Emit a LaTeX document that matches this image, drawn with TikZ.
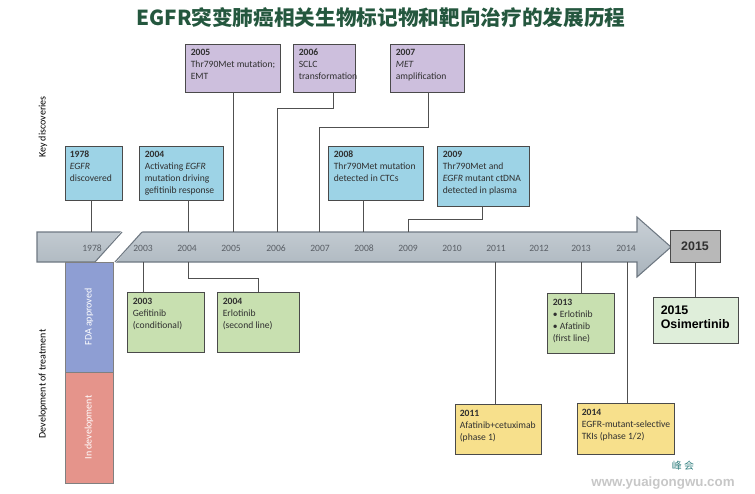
\documentclass[tikz,border=0pt]{standalone}
\usepackage{fontspec}
\setmainfont{Carlito}
\newfontfamily\cjk{Noto Sans CJK SC}
\newfontfamily\arialf{Liberation Sans}
\usetikzlibrary{fit}
\definecolor{purp}{HTML}{CDBFDD}
\definecolor{bluef}{HTML}{9DD3E6}
\definecolor{greenf}{HTML}{C8E0B0}
\definecolor{lgreenf}{HTML}{DFEEDA}
\definecolor{yellowf}{HTML}{F7E08C}
\definecolor{fdaf}{HTML}{8E9ED3}
\definecolor{devf}{HTML}{E5948B}
\definecolor{grayf}{HTML}{B8B8B8}
\definecolor{boxline}{HTML}{4A4A4A}
\definecolor{connc}{HTML}{505050}
\definecolor{txt}{HTML}{303030}
\definecolor{yeartxt}{HTML}{5A5F66}
\definecolor{titlec}{HTML}{24573E}
\definecolor{arrtop}{HTML}{CAD1D7}
\definecolor{arrbot}{HTML}{A9B3BC}
\definecolor{arrline}{HTML}{6E7882}
\begin{document}
\begin{tikzpicture}[x=0.75pt,y=-0.75pt,
  box/.style={draw=boxline, line width=0.7pt, inner sep=0pt},
  pbox/.style={box, fill=purp},
  bbox/.style={box, fill=bluef},
  gbox/.style={box, fill=greenf},
  lgbox/.style={box, fill=lgreenf},
  ybox/.style={box, fill=yellowf},
  btext/.style={anchor=north west, align=left, inner sep=0pt, font=\fontsize{7.2}{9}\selectfont, text=txt},
  conn/.style={draw=connc, line width=0.75pt},
  yearlbl/.style={font=\fontsize{7.2}{8}\selectfont, text=yeartxt, inner sep=0pt},
  sidelbl/.style={font=\fontsize{7.5}{9}\selectfont, rotate=90, inner sep=0pt, text=black},
  barlbl/.style={font=\fontsize{7.5}{9}\selectfont, rotate=90, inner sep=0pt, text=white}
]
\useasboundingbox (0,0) rectangle (755,493);

% title
\node[font=\cjk\bfseries\fontsize{15.5}{18}\selectfont, text=titlec, inner sep=0pt] (title) at (381,18) {EGFR突变肺癌相关生物标记物和靶向治疗的发展历程};

% side labels
\node[sidelbl] (keylbl) at (43,127) {Key discoveries};
\node[sidelbl] (devlbl) at (43,384) {Development of treatment};

% timeline arrow
\path[draw=arrline, line width=0.8pt, top color=arrtop, bottom color=arrbot]
  (37,232) -- (637,232) -- (637,217) -- (671,247) -- (637,277) -- (637,262) -- (37,262) -- cycle;
\fill[white] (94,263.5) -- (115,263.5) -- (143,230.5) -- (122,230.5) -- cycle;
\draw[arrline, line width=0.8pt] (95,262) -- (122,232);
\draw[arrline, line width=0.8pt] (115,262) -- (142,232);

% year labels
\foreach \yr/\xx in {1978/92,2003/143,2004/187,2005/231,2006/276,2007/320,2008/364,2009/408,2010/452,2011/496,2012/539,2013/581,2014/626}
  \node[yearlbl] (y\yr) at (\xx,248) {\yr};

% 2015 gray box
\node[box, fill=grayf, fit={(670,230)(720,262)}] (g2015) {};
\node[font=\arialf\bfseries\fontsize{9.3}{11}\selectfont, text=txt, inner sep=0pt] (g2015t) at (g2015.center) {2015};

% development bars
\node[box, draw=boxline!70, fill=fdaf, fit={(65,262)(113,372)}] (fda) {};
\node[box, draw=boxline!70, fill=devf, fit={(65,372)(113,483)}] (dev) {};
\node[barlbl] (fdat) at (fda.center) {FDA approved};
\node[barlbl] (devt) at (dev.center) {In development};

% key discoveries - purple
\node[pbox, fit={(185,44)(280,92)}] (p2005) {};
\node[btext] (p2005t) at ([shift={(6,5)}]p2005.north west) {\textbf{2005}\\Thr790Met mutation;\\EMT};
\node[pbox, fit={(293,44)(355,92)}] (p2006) {};
\node[btext] (p2006t) at ([shift={(6,5)}]p2006.north west) {\textbf{2006}\\SCLC\\transformation};
\node[pbox, fit={(390,44)(464,92)}] (p2007) {};
\node[btext] (p2007t) at ([shift={(6,5)}]p2007.north west) {\textbf{2007}\\\textit{MET}\\amplification};

% key discoveries - blue
\node[bbox, fit={(65,146)(122,200)}] (b1978) {};
\node[btext] (b1978t) at ([shift={(5,5)}]b1978.north west) {\textbf{1978}\\\textit{EGFR}\\discovered};
\node[bbox, fit={(139,146)(223,200)}] (b2004) {};
\node[btext] (b2004t) at ([shift={(6,5)}]b2004.north west) {\textbf{2004}\\Activating \textit{EGFR}\\mutation driving\\gefitinib response};
\node[bbox, fit={(328,146)(423,200)}] (b2008) {};
\node[btext] (b2008t) at ([shift={(6,5)}]b2008.north west) {\textbf{2008}\\Thr790Met mutation\\detected in CTCs};
\node[bbox, fit={(437,146)(529,206)}] (b2009) {};
\node[btext] (b2009t) at ([shift={(6,5)}]b2009.north west) {\textbf{2009}\\Thr790Met and\\\textit{EGFR} mutant ctDNA\\detected in plasma};

% treatment boxes
\node[gbox, fit={(127,292)(204,352)}] (g2003) {};
\node[btext] (g2003t) at ([shift={(6,6)}]g2003.north west) {\textbf{2003}\\Gefitinib\\(conditional)};
\node[gbox, fit={(217,292)(299,352)}] (g2004) {};
\node[btext] (g2004t) at ([shift={(6,6)}]g2004.north west) {\textbf{2004}\\Erlotinib\\(second line)};
\node[gbox, fit={(547,293)(614,353)}] (g2013) {};
\node[btext] (g2013t) at ([shift={(6,6)}]g2013.north west) {\textbf{2013}\\\textbullet\ Erlotinib\\\textbullet\ Afatinib\\(first line)};
\node[lgbox, fit={(653,297)(738,343)}] (o2015) {};
\node[anchor=north west, align=left, inner sep=0pt, font=\arialf\bfseries\fontsize{9.3}{10.5}\selectfont, text=black] (o2015t) at ([shift={(8,9)}]o2015.north west) {2015\\Osimertinib};
\node[ybox, fit={(455,404)(541,454)}] (y2011) {};
\node[btext] (y2011t) at ([shift={(5,6)}]y2011.north west) {\textbf{2011}\\Afatinib+cetuximab\\(phase 1)};
\node[ybox, fit={(577,403)(674,454)}] (y2014) {};
\node[btext] (y2014t) at ([shift={(5,6)}]y2014.north west) {\textbf{2014}\\EGFR-mutant-selective\\TKIs (phase 1/2)};

% connector coordinates on arrow
\coordinate (k78) at (91,232);
\coordinate (k04) at (188,232);
\coordinate (k05) at (233,232);
\coordinate (k06) at (277,232);
\coordinate (k07) at (319,232);
\coordinate (k08) at (363,232);
\coordinate (k09) at (408,232);
\coordinate (c06) at (333,108);
\coordinate (c07) at (428,127);
\coordinate (c09) at (482,219);
\coordinate (kb03) at (143,262);
\coordinate (kb04) at (188,262);
\coordinate (c04b) at (258,278);
\coordinate (kb11) at (495,262);
\coordinate (kb13) at (581,262);
\coordinate (kb14) at (627,262);

% connectors
\draw[conn] (b1978.south -| k78) -- (k78);
\draw[conn] (b2004.south -| k04) -- (k04);
\draw[conn] (p2005.south -| k05) -- (k05);
\draw[conn] (p2006.south -| c06) -- (c06) -| (k06);
\draw[conn] (p2007.south -| c07) -- (c07) -| (k07);
\draw[conn] (b2008.south -| k08) -- (k08);
\draw[conn] (b2009.south -| c09) -- (c09) -| (k09);
\draw[conn] (kb03) -- (g2003.north -| kb03);
\draw[conn] (kb04) |- (c04b) -- (g2004.north -| c04b);
\draw[conn] (kb11) -- (y2011.north -| kb11);
\draw[conn] (kb13) -- (g2013.north -| kb13);
\draw[conn] (kb14) -- (y2014.north -| kb14);
\draw[conn] (g2015.south) -- (o2015.north -| g2015.south);

% watermark
\node[font=\cjk\fontsize{7.5}{9}\selectfont, text=teal!60!gray, inner sep=0pt] (wm1) at (683,466) {峰\ 会};
\node[font=\arialf\bfseries\fontsize{10}{12}\selectfont, text=black!22, inner sep=0pt] (wm2) at (663,483) {www.yuaigongwu.com};
\end{tikzpicture}
\end{document}
